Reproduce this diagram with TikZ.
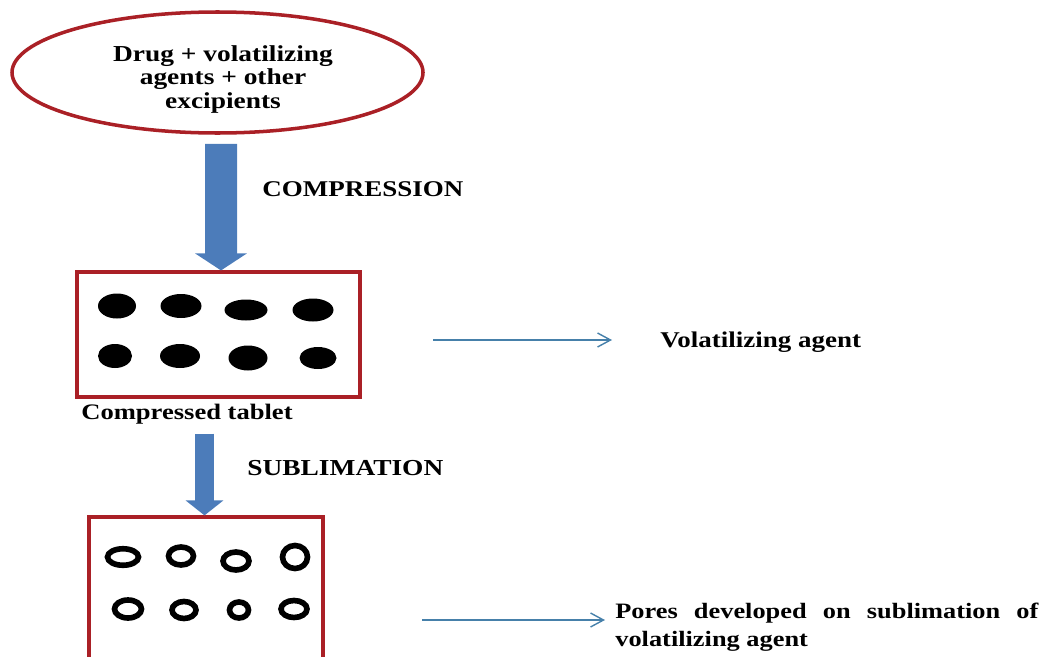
\documentclass[tikz,border=0pt]{standalone}
\usepackage{fontspec}
\setmainfont[FakeStretch=1.2]{Liberation Serif}
\usetikzlibrary{arrows.meta,shapes.geometric,positioning}
\definecolor{boxred}{RGB}{170,32,38}
\definecolor{fatblue}{RGB}{76,124,186}
\definecolor{thinblue}{RGB}{70,128,170}
\begin{document}
\begin{tikzpicture}[>=stealth, every node/.style={font=\bfseries},
  redbox/.style={draw=boxred, line width=1.8pt},
  fatarrow/.style={draw=fatblue},
  thinarrow/.style={draw=thinblue, line width=0.8pt, -{Straight Barb[length=0.26cm,width=0.28cm]}},
  lbl/.style={inner sep=0pt}]
  \useasboundingbox (0,0) rectangle (20.82,13.12);
  \node[ellipse, draw=boxred, line width=2pt, minimum width=8.22cm, minimum height=2.42cm] (mix) at (4.35,11.67) {};
  \node[lbl, align=center, font=\bfseries\fontsize{13}{13.3}\selectfont] (mixtxt) at (4.46,11.53)
    {Drug + volatilizing\\agents + other\\excipients};
  \node[redbox, minimum width=5.66cm, minimum height=2.5cm] (tab1) at (4.37,6.43) {};
  \node[redbox, minimum width=4.68cm, minimum height=3cm] (tab2) at (4.12,1.28) {};
  % volatilizing agent and pores
  \foreach \x/\y/\a/\b in {2.34/7.0/0.38/0.25, 3.62/7.0/0.41/0.24, 4.92/6.92/0.43/0.21, 6.26/6.92/0.41/0.23,
      2.30/6.0/0.34/0.24, 3.60/6.0/0.40/0.24, 4.96/5.96/0.39/0.25, 6.36/5.96/0.37/0.22}
    \fill (\x,\y) ellipse [x radius=\a, y radius=\b];
  \foreach \x/\y/\a/\b in {2.46/1.98/0.31/0.165, 3.62/2.0/0.25/0.18, 4.72/1.90/0.26/0.18, 5.90/1.98/0.25/0.23,
      2.56/0.94/0.27/0.18, 3.68/0.92/0.24/0.17, 4.78/0.92/0.19/0.16, 5.88/0.94/0.26/0.17}
    \draw[line width=3.2pt] (\x,\y) ellipse [x radius=\a, y radius=\b];
  \node[lbl, anchor=west, font=\bfseries\fontsize{12.8}{14}\selectfont] (comp) at (5.24,9.34) {COMPRESSION};
  \node[lbl, anchor=west, font=\bfseries\fontsize{12.6}{14}\selectfont] (tablbl) at (1.62,4.84) {Compressed tablet};
  \node[lbl, anchor=west, font=\bfseries\fontsize{13}{14}\selectfont] (subl) at (4.94,3.76) {SUBLIMATION};
  \node[lbl, anchor=base west, font=\bfseries\fontsize{12.8}{14}\selectfont] (volag) at (13.2,6.18) {Volatilizing agent};
  \node[lbl, anchor=north west, text width=8.46cm, align=justify, font=\bfseries\fontsize{12.5}{15.5}\selectfont] (pores)
    at (12.30,1.06) {Pores developed on sublimation of\linebreak volatilizing agent};
  \draw[fatarrow, line width=0.64cm, -{Triangle[width=1.02cm,length=0.34cm]}]
    ([xshift=0.07cm,yshift=-0.18cm]mix.south) -- ([xshift=0.05cm]tab1.north);
  \draw[fatarrow, line width=0.38cm, -{Triangle[width=0.74cm,length=0.3cm]}]
    ([xshift=-0.28cm,yshift=-0.7cm]tab1.south) -- ([xshift=-0.03cm]tab2.north);
  \coordinate (a1s) at (8.66,6.32);
  \coordinate (a2s) at (8.44,0.72);
  \draw[thinarrow, shorten >=0.96cm] (a1s) -- (a1s -| volag.west);
  \draw[thinarrow, shorten >=0.2cm] (a2s) -- (a2s -| pores.west);
\end{tikzpicture}
\end{document}
